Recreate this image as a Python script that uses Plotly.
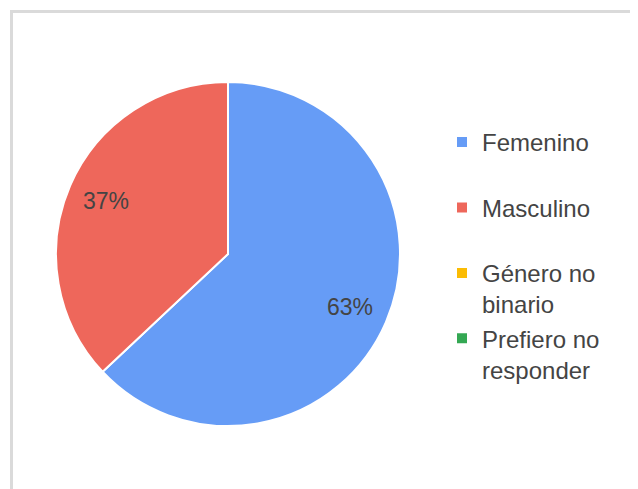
import math
import plotly.graph_objects as go

categories = ["Femenino", "Masculino", "Género no<br>binario", "Prefiero no<br>responder"]
values = [63, 37, 0, 0]
colors = ["#669cf6", "#ee675b", "#fbbc04", "#34a853"]

W, H = 638, 489
OFF = 8  # page body margin of the browser
cx, cy, R = 228 - OFF, 254 - OFF, 172
FONT = "Arial, Liberation Sans, sans-serif"

# pad single-line legend entries so every entry takes two lines
legend_labels = [c if "<br>" in c else c + "<br> " for c in categories]

fig = go.Figure(go.Pie(
    labels=legend_labels,
    values=values,
    textinfo="none",
    sort=False,
    direction="clockwise",
    rotation=0,
    marker=dict(colors=colors, line=dict(color="white", width=2)),
    hoverinfo="label+percent",
    domain=dict(x=[(cx - R) / W, (cx + R) / W], y=[(H - cy - R) / H, (H - cy + R) / H]),
))

# percentage labels placed along each slice's mid-angle
total = sum(values)
start = 0.0
annotations = []
for v in values:
    frac = v / total
    if v:
        mid = 2 * math.pi * (start + frac / 2)
        r = 0.77 * R
        x = cx + r * math.sin(mid)
        y = cy - r * math.cos(mid)
        annotations.append(dict(x=x / W, y=1 - y / H, xref="paper", yref="paper",
                                xanchor="center", yanchor="middle",
                                text=f"{round(100 * frac)}%", showarrow=False,
                                font=dict(family=FONT, size=23, color="#444444")))
    start += frac

fig.update_layout(
    width=W, height=H,
    margin=dict(l=0, r=0, t=0, b=0),
    paper_bgcolor="white",
    plot_bgcolor="white",
    showlegend=True,
    legend=dict(
        x=(442 - OFF) / W, y=1 - 112 / H, xanchor="left", yanchor="top",
        font=dict(family=FONT, size=24, color="#444444"),
        valign="top",
        tracegroupgap=0,
        bgcolor="rgba(0,0,0,0)",
    ),
    annotations=annotations,
    shapes=[dict(type="rect", xref="paper", yref="paper",
                 x0=(11.5 - OFF) / W, x1=1.2, y0=-0.2, y1=1 - (11.5 - OFF) / H,
                 line=dict(color="#dadada", width=3), fillcolor="rgba(0,0,0,0)", layer="below")],
)

fig.write_html("out.html")
